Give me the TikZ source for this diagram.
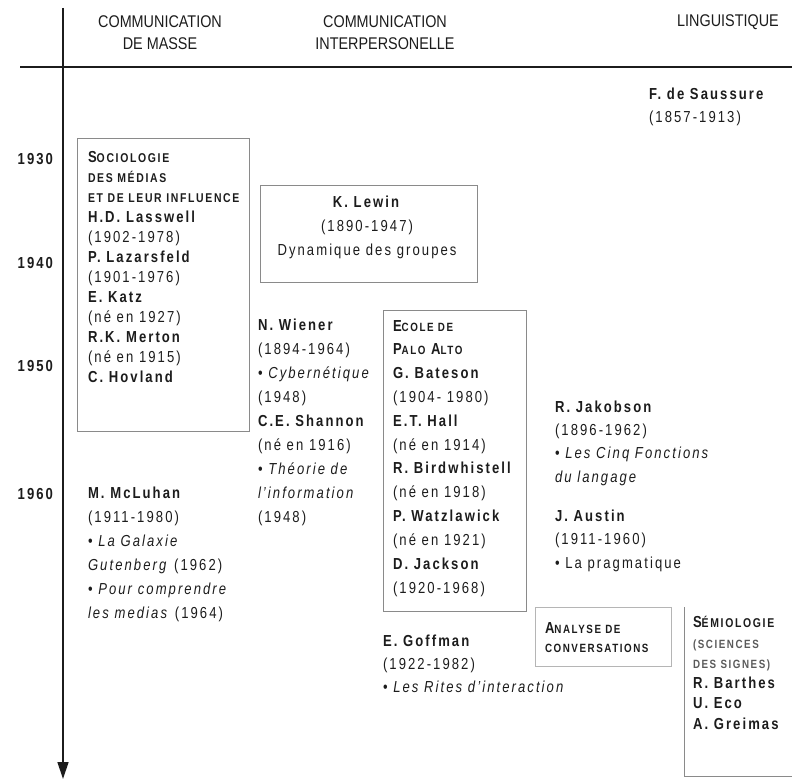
\documentclass[tikz,border=0pt]{standalone}
\usepackage{fontspec}
\setmainfont{Liberation Sans}[FakeStretch=0.82,LetterSpace=13]
\newfontfamily\headfont{Liberation Sans}[FakeStretch=0.85]
\usetikzlibrary{arrows.meta}
% fake small capitals: full-size initial, reduced capitals after it
\newcommand\capsc[2]{{\fontsize{16}{20}\selectfont\bfseries #1}{\fontsize{12}{20}\selectfont\bfseries #2}}
\newcommand\capscw[2]{{\fontsize{16}{20}\selectfont\bfseries #1}{\fontsize{12.8}{20}\selectfont\bfseries #2}}
\definecolor{ink}{HTML}{1C1C1C}
\definecolor{fadedink}{HTML}{5A5A5A}
\definecolor{framegrey}{HTML}{8A8A8A}
\definecolor{lightframe}{HTML}{B5B5B5}
\begin{document}
\begin{tikzpicture}[x=1bp,y=-1bp,
  every node/.style={inner sep=0pt,outer sep=0pt},
  % multi-line nodes are anchored on the baseline of their last line
  txt/.style={anchor=base west,align=left,text=ink,font=\fontsize{16}{24}\selectfont},
  tightxt/.style={txt,font=\fontsize{16}{20}\selectfont},
  hdr/.style={anchor=base,align=center,text=ink,font=\headfont\fontsize{17}{23}\selectfont},
  yearlbl/.style={anchor=base east,text=ink,font=\fontsize{16}{20}\selectfont\bfseries},
  framebox/.style={draw=framegrey,line width=0.8pt,anchor=north west},
  axis/.style={draw=ink,line width=1.3pt}]
\useasboundingbox (0,0) rectangle (792,781);

% axes
\coordinate (ruleL) at (20,67);
\coordinate (ruleR) at (792,67);
\coordinate (axisTop) at (63,8);
\coordinate (axisEnd) at (63,779);
\draw[axis] (ruleL) -- (ruleR);
\draw[axis,-{Triangle[width=11bp,length=17bp]}] (axisTop) -- (axisEnd);

% column headings
\node[hdr] (hmasse) at (160,50) {COMMUNICATION\\DE MASSE};
\node[hdr] (hinter) at (385,50) {COMMUNICATION\\INTERPERSONELLE};
\node[hdr] (hling) at (728,27) {LINGUISTIQUE};

% decades
\node[yearlbl] (y1930) at (53,164) {1930};
\node[yearlbl] (y1940) at (53,268) {1940};
\node[yearlbl] (y1950) at (53,371) {1950};
\node[yearlbl] (y1960) at (53,499) {1960};

% frames
\node[framebox,minimum width=173,minimum height=294] (socbox) at (77,138) {};
\node[framebox,minimum width=218,minimum height=98] (lewbox) at (260,185) {};
\node[framebox,minimum width=144,minimum height=303] (palobox) at (383,310) {};
\node[framebox,draw=lightframe,minimum width=137,minimum height=60] (convbox) at (535,607) {};
\coordinate (semTop) at (684,607);
\coordinate (semCorner) at (684,776);
\coordinate (semEnd) at (792,776);
\draw[draw=framegrey,line width=0.8pt] (semTop) -- (semCorner) -- (semEnd);

% linguistics
\node[txt,font=\fontsize{16}{23}\selectfont] (saussure) at (649,122) {\textbf{F. de Saussure}\\(1857-1913)};

% mass communication
\node[tightxt] (socio) at (88,382) {\capscw{S}{OCIOLOGIE}\\
  \capscw{}{DES MÉDIAS}\\
  \capscw{}{ET DE LEUR INFLUENCE}\\
  \textbf{H.D. Lasswell}\\
  (1902-1978)\\
  \textbf{P. Lazarsfeld}\\
  (1901-1976)\\
  \textbf{E. Katz}\\
  (né en 1927)\\
  \textbf{R.K. Merton}\\
  (né en 1915)\\
  \textbf{C. Hovland}};

\node[txt] (mcluhan) at (88,618) {\textbf{M. McLuhan}\\
  (1911-1980)\\
  • \textit{La Galaxie}\\
  \textit{Gutenberg} (1962)\\
  • \textit{Pour comprendre}\\
  \textit{les medias} (1964)};

% interpersonal communication
\node[anchor=base,align=center,text=ink,font=\fontsize{16}{24}\selectfont] (lewin) at (367,255)
  {\textbf{K. Lewin}\\(1890-1947)\\Dynamique des groupes};

\node[txt] (wiener) at (258,522) {\textbf{N. Wiener}\\
  (1894-1964)\\
  • \textit{Cybernétique}\\
  (1948)\\
  \textbf{C.E. Shannon}\\
  (né en 1916)\\
  • \textit{Théorie de}\\
  \textit{l’information}\\
  (1948)};

\node[txt,font=\fontsize{16}{23.9}\selectfont] (paloalto) at (393,593) {\capsc{E}{COLE DE}\\
  \capsc{P}{ALO} \capsc{A}{LTO}\\
  \textbf{G. Bateson}\\
  (1904- 1980)\\
  \textbf{E.T. Hall}\\
  (né en 1914)\\
  \textbf{R. Birdwhistell}\\
  (né en 1918)\\
  \textbf{P. Watzlawick}\\
  (né en 1921)\\
  \textbf{D. Jackson}\\
  (1920-1968)};

\node[txt,font=\fontsize{16}{23}\selectfont] (goffman) at (383,692) {\textbf{E. Goffman}\\
  (1922-1982)\\
  • \textit{Les Rites d’interaction}};

% linguistics, continued
\node[txt,font=\fontsize{16}{23.3}\selectfont] (jakobson) at (555,482) {\textbf{R. Jakobson}\\
  (1896-1962)\\
  • \textit{Les Cinq Fonctions}\\
  \textit{du langage}};

\node[txt,font=\fontsize{16}{23.5}\selectfont] (austin) at (555,568) {\textbf{J. Austin}\\
  (1911-1960)\\
  • La pragmatique};

\node[tightxt,font=\fontsize{16}{19}\selectfont] (conv) at (545,652) {\capsc{A}{NALYSE DE}\\\capsc{}{CONVERSATIONS}};

\node[txt,font=\fontsize{16}{20.3}\selectfont] (semio) at (693,729) {\capscw{S}{ÉMIOLOGIE}\\
  {\color{fadedink}\capsc{}{(SCIENCES}}\\
  {\color{fadedink}\capsc{}{DES SIGNES)}}\\
  \textbf{R. Barthes}\\
  \textbf{U. Eco}\\
  \textbf{A. Greimas}};
\end{tikzpicture}
\end{document}
